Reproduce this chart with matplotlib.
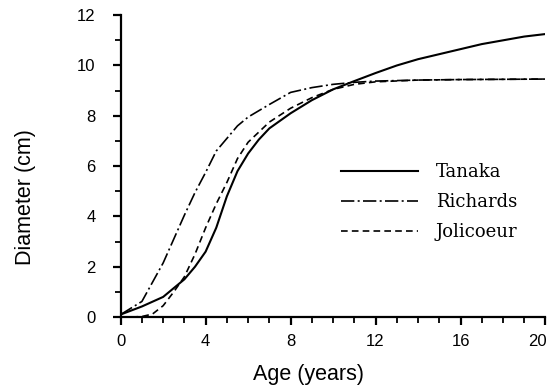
import numpy as np
import matplotlib.pyplot as plt
import matplotlib.transforms as mtransforms
from matplotlib.ticker import MultipleLocator

# Tanaka model
age_t = [0, 1, 2, 3, 3.5, 4, 4.5, 5, 5.5, 6, 6.5, 7, 8, 9, 10, 11, 12, 13, 14, 15, 16, 17, 18, 19, 20]
dia_t = [0.1, 0.42, 0.8, 1.5, 2.0, 2.6, 3.55, 4.8, 5.8, 6.5, 7.05, 7.5, 8.1, 8.62, 9.05, 9.38,
         9.7, 10.0, 10.25, 10.45, 10.65, 10.85, 11.0, 11.15, 11.25]

# Richards model
age_r = [0, 1, 2, 2.5, 3, 3.5, 4, 4.5, 5, 5.5, 6, 7, 8, 9, 10, 11, 12, 14, 16, 18, 20]
dia_r = [0.1, 0.62, 2.15, 3.1, 4.05, 4.95, 5.75, 6.6, 7.1, 7.6, 7.95, 8.45, 8.93, 9.12, 9.25,
         9.33, 9.38, 9.42, 9.44, 9.45, 9.46]

# Jolicoeur model
age_j = [0, 0.5, 1, 1.5, 2, 2.5, 3, 3.5, 4, 4.5, 5, 5.5, 6, 7, 8, 9, 10, 11, 12, 14, 16, 18, 20]
dia_j = [0.0, 0.0, 0.02, 0.12, 0.45, 1.0, 1.6, 2.5, 3.55, 4.5, 5.35, 6.3, 6.95, 7.75, 8.3, 8.72,
         9.05, 9.25, 9.35, 9.42, 9.44, 9.45, 9.46]

x_ticks = [0, 4, 8, 12, 16, 20]
y_ticks = [0, 2, 4, 6, 8, 10, 12]

fig = plt.figure(figsize=(5.51, 3.89), dpi=100)
ax = fig.add_axes([0.219, 0.185, 0.771, 0.776])

ax.plot(age_t, dia_t, '-', color='black', lw=1.5, label='Tanaka')
ax.plot(age_r, dia_r, color='black', lw=1.2, dashes=(8, 2, 1.2, 2), label='Richards')
ax.plot(age_j, dia_j, color='black', lw=1.2, dashes=(4, 2.5), label='Jolicoeur')

ax.set_xlim(0, 20)
ax.set_ylim(0, 12)
ax.set_xticks(x_ticks)
ax.set_yticks(y_ticks)
ax.xaxis.set_minor_locator(MultipleLocator(1))
ax.yaxis.set_minor_locator(MultipleLocator(1))
for s in ['top', 'right']:
    ax.spines[s].set_visible(False)
for s in ['left', 'bottom']:
    ax.spines[s].set_linewidth(1.6)
ax.tick_params(which='major', direction='out', length=6, width=1.6, labelsize=12)
ax.tick_params(which='minor', direction='out', length=4, width=1.3)
ax.tick_params(axis='x', which='major', pad=6)
ax.tick_params(axis='y', which='major', pad=12)
for lab in ax.get_xticklabels() + ax.get_yticklabels():
    lab.set_fontfamily('Liberation Sans')

# last x label sits a bit to the left so it fits
lab20 = ax.xaxis.get_major_ticks()[-1].label1
lab20.set_transform(lab20.get_transform() + mtransforms.ScaledTranslation(-8 / 100, 0, fig.dpi_scale_trans))

ax.set_xlabel('Age (years)', fontsize=15.5, family='Liberation Sans', va='center')
ax.xaxis.set_label_coords(0.443, -0.192)
ax.set_ylabel('Diameter (cm)', fontsize=15.5, family='Liberation Sans', va='center')
ax.yaxis.set_label_coords(-0.223, 0.396)

ax.legend(loc='upper left', bbox_to_anchor=(0.48, 0.563), frameon=False,
          prop={'family': 'DejaVu Serif', 'size': 13}, handlelength=4.3,
          handletextpad=0.95, labelspacing=0.66)

fig.savefig('out.png', dpi=100)
